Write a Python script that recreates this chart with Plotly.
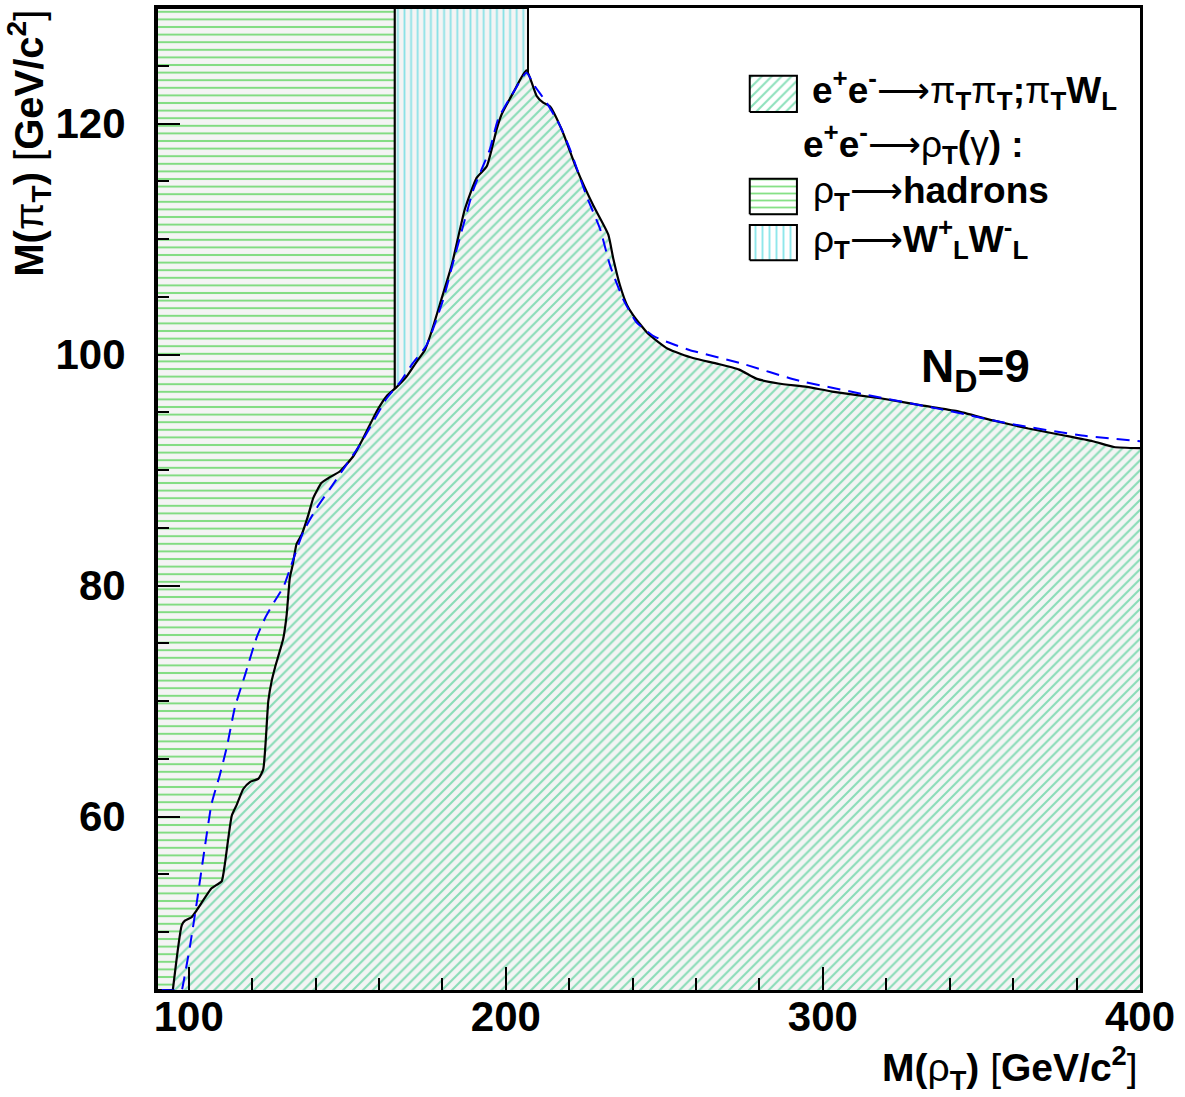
import plotly.graph_objects as go

# Exclusion boundary for e+e- -> pi_T pi_T ; pi_T W_L (solid), and expected (dashed)
m_rho_excl = [95.0, 97.8, 98.8, 100.9, 102.5, 107.2, 108.8, 110.4, 111.4, 113.6,
              115.1, 117.2, 119.3, 122.0, 123.5, 125.1, 126.2, 127.2, 129.8, 130.9,
              131.9, 132.8, 134.0, 135.6, 137.7, 139.3, 141.9, 144.0, 147.7, 151.9,
              155.1, 159.3, 162.4, 165.6, 168.7, 171.9, 174.5, 176.6, 179.7, 182.9,
              187.1, 190.8, 194.0, 197.1, 198.7, 202.4, 206.5, 209.7, 211.8, 213.9,
              217.6, 222.3, 227.6, 232.3, 233.9, 236.0, 238.2, 240.2, 244.9, 251.1,
              259.0, 266.9, 273.6, 279.2, 286.0, 295.0, 302.9, 318.6, 331.1, 342.3,
              353.6, 364.8, 376.1, 385.1, 391.8, 400.0]
m_pi_excl = [45.0, 50.6, 51.0, 51.3, 51.9, 53.8, 54.1, 54.4, 55.9, 60.1,
             61.0, 62.4, 63.0, 63.3, 64.1, 70.0, 71.8, 72.9, 75.4, 77.5,
             80.7, 81.8, 83.6, 84.4, 86.1, 87.6, 88.9, 89.3, 89.9, 91.2,
             92.8, 95.1, 96.4, 97.2, 98.1, 99.4, 100.4, 102.0, 104.8, 107.7,
             112.6, 115.3, 116.3, 119.5, 120.8, 122.7, 124.6, 122.4, 121.8, 121.5,
             119.5, 116.1, 112.9, 110.4, 108.3, 106.0, 104.3, 103.4, 101.8, 100.5,
             99.7, 99.2, 98.7, 97.9, 97.5, 97.2, 96.8, 96.2, 95.6, 95.1,
             94.3, 93.6, 93.0, 92.5, 92.0, 91.9]

m_rho_exp = [91.5, 97.8, 98.1, 100.4, 102.5, 105.1, 107.2, 109.9, 112.0, 114.6,
             117.8, 121.4, 124.1, 127.2, 129.9, 133.0, 136.2, 140.3, 144.6, 149.8,
             154.0, 158.2, 162.4, 166.6, 170.8, 175.0, 180.3, 183.4, 186.6, 189.8,
             195.0, 197.6, 202.4, 206.5, 209.2, 212.9, 217.1, 220.2, 225.5, 229.7,
             232.9, 237.0, 241.2, 246.6, 251.8, 257.9, 274.7, 291.6, 314.1, 336.7,
             359.2, 381.7, 400.0]
m_pi_exp = [45.0, 45.0, 45.3, 48.8, 52.5, 57.4, 61.1, 63.7, 66.0, 69.5,
            72.3, 75.5, 77.2, 78.7, 79.9, 82.3, 84.7, 86.7, 88.4, 90.5,
            92.2, 94.2, 96.2, 97.6, 99.3, 100.8, 104.8, 108.0, 111.2, 114.3,
            117.8, 120.4, 122.7, 124.4, 123.2, 121.8, 119.8, 117.8, 113.7, 110.9,
            107.7, 104.8, 102.8, 101.6, 101.0, 100.4, 99.2, 97.8, 96.5, 95.3,
            94.0, 93.0, 92.5]

# rho_T -> hadrons and rho_T -> W_L W_L excluded mass bands
rho_hadrons_max = 165.0
rho_ww_max = 207.0

x_range = [90, 400]
y_range = [45, 130]

FONT = "Liberation Sans"
GREY = "#f4f4f4"
DIAG = "#1fc47a"
HGREEN = "#0ec40e"
CYAN = "#22d0d8"

fig = go.Figure()

# horizontal-hatched band: rho_T -> hadrons
fig.add_trace(go.Scatter(
    x=[x_range[0], rho_hadrons_max, rho_hadrons_max, x_range[0], x_range[0]],
    y=[y_range[0], y_range[0], y_range[1], y_range[1], y_range[0]],
    mode="lines", fill="toself", fillcolor=GREY,
    fillpattern=dict(shape="-", fgcolor=HGREEN, bgcolor=GREY, size=7.6, solidity=0.26),
    line=dict(color="black", width=2), hoverinfo="skip", showlegend=False))

# vertical-hatched band: rho_T -> W_L W_L
fig.add_trace(go.Scatter(
    x=[rho_hadrons_max, rho_ww_max, rho_ww_max, rho_hadrons_max, rho_hadrons_max],
    y=[y_range[0], y_range[0], y_range[1], y_range[1], y_range[0]],
    mode="lines", fill="toself", fillcolor=GREY,
    fillpattern=dict(shape="|", fgcolor=CYAN, bgcolor=GREY, size=6.6, solidity=0.28),
    line=dict(color="black", width=2), hoverinfo="skip", showlegend=False))

# diagonal-hatched region below the pi_T pi_T / pi_T W_L boundary (solid curve)
fig.add_trace(go.Scatter(
    x=m_rho_excl, y=m_pi_excl, mode="lines", fill="tozeroy", fillcolor=GREY,
    fillpattern=dict(shape="/", fgcolor=DIAG, bgcolor=GREY, size=7, solidity=0.3),
    line=dict(color="black", width=2.2, shape="spline", smoothing=0.5),
    hoverinfo="skip", showlegend=False))

fig.add_trace(go.Scatter(
    x=m_rho_exp, y=m_pi_exp, mode="lines",
    line=dict(color="#0000ff", width=2, dash="13px,8px", shape="spline", smoothing=0.5),
    hoverinfo="skip", showlegend=False))

# legend swatches on an overlay unit axis
swatches = [
    ("/", DIAG, 7, 0.3, 0.603, 0.651, 0.894, 0.931),
    ("-", HGREEN, 7, 0.26, 0.603, 0.651, 0.790, 0.826),
    ("|", CYAN, 7, 0.28, 0.603, 0.651, 0.743, 0.779),
]
for shape, col, size, sol, x0, x1, y0, y1 in swatches:
    fig.add_trace(go.Scatter(
        x=[x0, x1, x1, x0, x0], y=[y0, y0, y1, y1, y0],
        xaxis="x2", yaxis="y2", mode="lines", fill="toself", fillcolor="white",
        fillpattern=dict(shape=shape, fgcolor=col, bgcolor="white", size=size, solidity=sol),
        line=dict(color="black", width=2), hoverinfo="skip", showlegend=False))

N = "font-weight:normal"
ARROW = "<span style='font-weight:normal;font-family:DejaVu Sans'>⟶</span>"
leg_font = dict(family=FONT, size=37, color="black")
legend_lines = [
    (0.664, 0.917,
     f"<b>e<sup>+</sup>e<sup>-</sup></b>{ARROW}<span style='{N}'>π</span><sub><b>T</b></sub>"
     f"<span style='{N}'>π</span><sub><b>T</b></sub><b>;</b><span style='{N}'>π</span>"
     f"<sub><b>T</b></sub><b>W<sub>L</sub></b>"),
    (0.655, 0.862,
     f"<b>e<sup>+</sup>e<sup>-</sup></b>{ARROW}<span style='{N}'>ρ</span><sub><b>T</b></sub>"
     f"<b>(</b><span style='{N}'>γ</span><b>) :</b>"),
    (0.665, 0.812,
     f"<span style='{N}'>ρ</span><sub><b>T</b></sub>{ARROW}<b>hadrons</b>"),
    (0.665, 0.765,
     f"<span style='{N}'>ρ</span><sub><b>T</b></sub>{ARROW}"
     f"<b>W<sup>+</sup><sub>L</sub>W<sup>-</sup><sub>L</sub></b>"),
]
annotations = []
for ax, ay, txt in legend_lines:
    annotations.append(dict(x=ax, y=ay, xref="paper", yref="paper", text=txt,
                            showarrow=False, xanchor="left", yanchor="middle",
                            font=leg_font))

annotations.append(dict(x=0.775, y=0.632, xref="paper", yref="paper",
                        text="<b>N<sub>D</sub>=9</b>", showarrow=False,
                        xanchor="left", yanchor="middle",
                        font=dict(family=FONT, size=46, color="black")))

annotations.append(dict(x=1.0, y=-0.079, xref="paper", yref="paper",
                        text=f"<b>M(</b><span style='{N}'>ρ</span><sub><b>T</b></sub><b>)</b>"
                             f"<span style='{N}'> [</span><b>GeV/c<sup>2</sup></b>"
                             f"<span style='{N}'>]</span>",
                        showarrow=False, xanchor="right", yanchor="middle",
                        font=dict(family=FONT, size=39, color="black")))

annotations.append(dict(x=-0.131, y=1.0, xref="paper", yref="paper", textangle=-90,
                        text=f"<b>M(</b><span style='{N}'>π</span><sub><b>T</b></sub><b>)</b>"
                             f"<span style='{N}'> [</span><b>GeV/c<sup>2</sup></b>"
                             f"<span style='{N}'>]</span>",
                        showarrow=False, xanchor="center", yanchor="top",
                        font=dict(family=FONT, size=40, color="black")))

tick_font = dict(family=FONT, size=42, color="black", weight="bold")
fig.update_layout(
    width=1185, height=1097,
    margin=dict(l=157, r=45, t=5, b=107),
    paper_bgcolor="white", plot_bgcolor="white",
    showlegend=False,
    annotations=annotations,
    xaxis=dict(range=x_range, tickmode="linear", tick0=100, dtick=100,
               ticks="inside", ticklen=23, tickwidth=2, tickcolor="black",
               minor=dict(dtick=20, tick0=100, ticks="inside", ticklen=12,
                          tickwidth=1.5, tickcolor="black"),
               showgrid=False, zeroline=False, showline=True, linewidth=3,
               linecolor="black", mirror=True, tickfont=tick_font,
               ticklabelstandoff=-12),
    yaxis=dict(range=y_range, tickmode="linear", tick0=60, dtick=20,
               ticks="inside", ticklen=23, tickwidth=2, tickcolor="black",
               minor=dict(dtick=5, tick0=60, ticks="inside", ticklen=12,
                          tickwidth=1.5, tickcolor="black"),
               showgrid=False, zeroline=False, showline=True, linewidth=3,
               linecolor="black", mirror=True, tickfont=tick_font,
               ticklabelstandoff=20),
    xaxis2=dict(range=[0, 1], overlaying="x", visible=False, fixedrange=True),
    yaxis2=dict(range=[0, 1], overlaying="y", visible=False, fixedrange=True),
)

fig.write_html("out.html")
